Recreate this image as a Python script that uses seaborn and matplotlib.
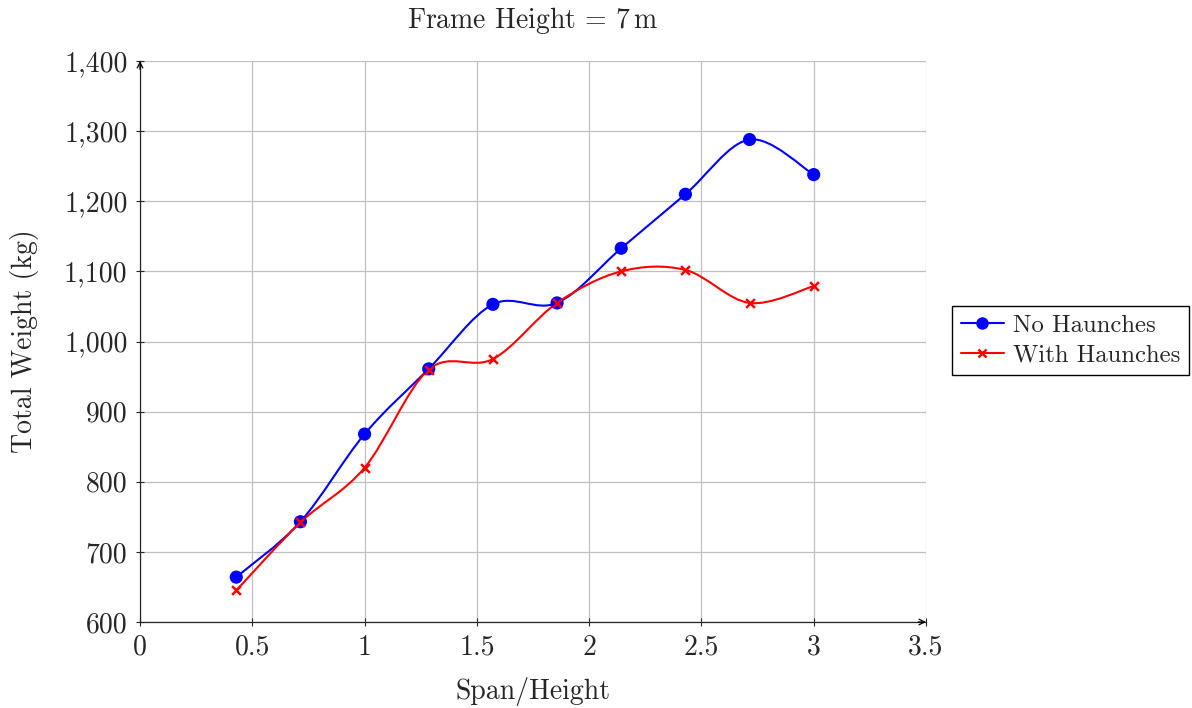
import matplotlib
matplotlib.use("Agg")
import matplotlib.pyplot as plt
from matplotlib.path import Path
from matplotlib.patches import PathPatch
from matplotlib.lines import Line2D
from matplotlib.ticker import FuncFormatter, MultipleLocator
import pandas as pd
import seaborn as sns

# span / height ratios (frame height 7 m)
span_ratio = [0.4286, 0.7143, 1.0, 1.2857, 1.5714, 1.8571, 2.1429, 2.4286, 2.7143, 3.0]
no_haunches = [664, 743, 868, 961, 1053, 1055, 1133, 1210, 1288, 1238]
with_haunches = [645, 742, 820, 960, 975, 1055, 1100, 1102, 1055, 1079]

sns.set_style("ticks")
plt.rcParams["font.family"] = ["cmr10", "DejaVu Serif"]
plt.rcParams["axes.unicode_minus"] = False
plt.rcParams["mathtext.fontset"] = "cm"

df = pd.DataFrame({
    "Span/Height": span_ratio * 2,
    "Total Weight (kg)": no_haunches + with_haunches,
    "series": ["No Haunches"] * len(span_ratio) + ["With Haunches"] * len(span_ratio),
})

colors = {"No Haunches": "#0000ff", "With Haunches": "#ff0000"}

fig = plt.figure(figsize=(11.92, 7.08), dpi=100)
ax = fig.add_axes([140 / 1192, 86 / 708, 786 / 1192, 561 / 708])


def smooth_curve(xs, ys, k=1 / 6):
    # tikz-style smooth: cubic bezier through the points
    verts = [(xs[0], ys[0])]
    codes = [Path.MOVETO]
    n = len(xs)
    for i in range(n - 1):
        p0 = (xs[i - 1], ys[i - 1]) if i > 0 else (xs[i], ys[i])
        p1 = (xs[i], ys[i])
        p2 = (xs[i + 1], ys[i + 1])
        p3 = (xs[i + 2], ys[i + 2]) if i + 2 < n else p2
        c1 = (p1[0] + k * (p2[0] - p0[0]), p1[1] + k * (p2[1] - p0[1]))
        c2 = (p2[0] - k * (p3[0] - p1[0]), p2[1] - k * (p3[1] - p1[1]))
        verts += [c1, c2, p2]
        codes += [Path.CURVE4] * 3
    return Path(verts, codes)


for name, vals in [("No Haunches", no_haunches), ("With Haunches", with_haunches)]:
    ax.add_patch(PathPatch(smooth_curve(span_ratio, vals), facecolor="none",
                           edgecolor=colors[name], lw=1.5, zorder=3))

sns.scatterplot(data=df[df.series == "No Haunches"], x="Span/Height", y="Total Weight (kg)",
                color=colors["No Haunches"], marker="o", s=90, edgecolor="none",
                zorder=4, ax=ax, legend=False)
sns.scatterplot(data=df[df.series == "With Haunches"], x="Span/Height", y="Total Weight (kg)",
                color=colors["With Haunches"], marker="x", s=40, linewidth=1.8,
                zorder=4, ax=ax, legend=False)

ax.set_xlim(0, 3.5)
ax.set_ylim(600, 1400)
ax.xaxis.set_major_locator(MultipleLocator(0.5))
ax.yaxis.set_major_locator(MultipleLocator(100))
ax.xaxis.set_major_formatter(FuncFormatter(lambda v, p: f"{v:g}"))
ax.yaxis.set_major_formatter(FuncFormatter(lambda v, p: f"{v:,.0f}"))
ax.grid(True, color="#c0c0c0", lw=0.9)
ax.set_axisbelow(True)

for s in ["top", "right"]:
    ax.spines[s].set_visible(False)
ax.spines["left"].set_linewidth(0.9)
ax.spines["bottom"].set_linewidth(0.9)
ax.tick_params(direction="inout", length=6, width=0.8, labelsize=20, pad=6)

# arrow heads on the axis lines
ax.annotate("", xy=(1.0, 0), xytext=(0.99, 0), xycoords="axes fraction",
            arrowprops=dict(arrowstyle="->", lw=0.9, color="black", shrinkA=0, shrinkB=0))
ax.annotate("", xy=(0, 1.0), xytext=(0, 0.985), xycoords="axes fraction",
            arrowprops=dict(arrowstyle="->", lw=0.9, color="black", shrinkA=0, shrinkB=0))

ax.set_xlabel("Span/Height", fontsize=20, labelpad=12)
ax.set_ylabel("Total Weight (kg)", fontsize=20, labelpad=18)
ax.set_title(r"Frame Height = 7$\,$m", fontsize=20, pad=24)

handles = [
    Line2D([], [], color=colors["No Haunches"], lw=1.5, marker="o", markersize=9, markeredgewidth=0),
    Line2D([], [], color=colors["With Haunches"], lw=1.5, marker="x", markersize=6, markeredgewidth=1.8),
]
fig.legend(handles, ["No Haunches", "With Haunches"], loc="upper left",
           bbox_to_anchor=(952 / 1192, 1 - 306 / 708), borderaxespad=0, fontsize=17.8,
           frameon=True, fancybox=False, edgecolor="black", framealpha=1,
           handlelength=1.75, handletextpad=0.35, borderpad=0.35, labelspacing=0.3)

fig.savefig("out.png", dpi=100)
